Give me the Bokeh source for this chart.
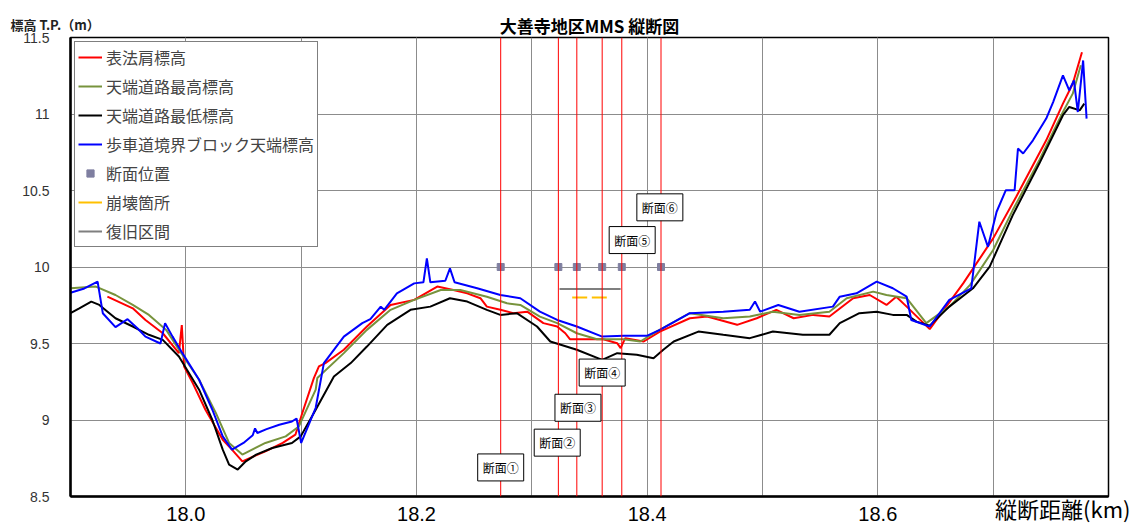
from bokeh.plotting import figure
from bokeh.models import FixedTicker, Span, Label, Range1d, Title
from bokeh.embed import file_html
from bokeh.resources import INLINE

# ---------------- data ----------------
blue_km = [17.900, 17.912, 17.9235, 17.928, 17.939, 17.9495, 17.958, 17.965, 17.978, 17.982, 17.9885,
           17.997, 18.0115, 18.023, 18.032, 18.040, 18.050, 18.058, 18.060, 18.062, 18.070, 18.081,
           18.092, 18.096, 18.100, 18.1126, 18.1197, 18.137, 18.153, 18.160, 18.169, 18.172, 18.183,
           18.198, 18.206, 18.209, 18.212, 18.225, 18.229, 18.233, 18.2526, 18.2727, 18.290, 18.307,
           18.322, 18.339, 18.361, 18.380, 18.3997, 18.411, 18.437, 18.466, 18.489, 18.4935, 18.498,
           18.5137, 18.532, 18.561, 18.567, 18.5815, 18.599, 18.613, 18.625, 18.629, 18.645, 18.662,
           18.681, 18.688, 18.6955, 18.703, 18.711, 18.7186, 18.7215, 18.726, 18.7345, 18.746, 18.752,
           18.7605, 18.766, 18.770, 18.7734, 18.778, 18.781]
blue_m = [9.832, 9.86, 9.904, 9.698, 9.607, 9.659, 9.60, 9.545, 9.50, 9.633, 9.545,
          9.437, 9.263, 9.067, 8.893, 8.806, 8.85, 8.90, 8.945, 8.915, 8.94, 8.969,
          8.99, 9.01, 8.85, 9.08, 9.372, 9.545, 9.633, 9.66, 9.741, 9.72, 9.828,
          9.893, 9.90, 10.057, 9.90, 9.91, 9.991, 9.90, 9.861, 9.817, 9.796, 9.708,
          9.654, 9.611, 9.545, 9.55, 9.55, 9.589, 9.698, 9.708, 9.72, 9.774, 9.708,
          9.752, 9.708, 9.741, 9.806, 9.828, 9.904, 9.861, 9.806, 9.654, 9.611, 9.785,
          9.861, 10.296, 10.132, 10.361, 10.502, 10.502, 10.774, 10.742, 10.828, 10.97, 11.078,
          11.252, 11.155, 11.22, 11.013, 11.35, 10.97]

red_km = [17.932, 17.954, 17.965, 17.980, 17.994, 17.9965, 17.9985, 18.006, 18.017, 18.032, 18.040,
          18.049, 18.069, 18.084, 18.095, 18.101, 18.111, 18.1154, 18.121, 18.137, 18.157, 18.1775,
          18.198, 18.218, 18.232, 18.244, 18.2554, 18.261, 18.2727, 18.284, 18.296, 18.310, 18.322,
          18.329, 18.333, 18.362, 18.374, 18.377, 18.381, 18.397, 18.411, 18.437, 18.452, 18.478,
          18.495, 18.512, 18.527, 18.544, 18.558, 18.5786, 18.593, 18.6075, 18.616, 18.625, 18.645,
          18.674, 18.700, 18.720, 18.746, 18.7605, 18.769, 18.777]
red_m = [9.806, 9.73, 9.654, 9.567, 9.437, 9.62, 9.35, 9.241, 9.067, 8.871, 8.806,
         8.73, 8.795, 8.85, 8.904, 9.046, 9.274, 9.35, 9.372, 9.459, 9.611, 9.752,
         9.785, 9.872, 9.85, 9.828, 9.796, 9.741, 9.72, 9.698, 9.708, 9.633, 9.611,
         9.567, 9.528, 9.528, 9.502, 9.47, 9.535, 9.513, 9.578, 9.665, 9.676, 9.622,
         9.665, 9.72, 9.665, 9.687, 9.676, 9.796, 9.817, 9.752, 9.806, 9.741, 9.594,
         9.893, 10.187, 10.459, 10.828, 11.068, 11.198, 11.404]

green_km = [17.900, 17.922, 17.939, 17.954, 17.968, 17.983, 17.994, 18.0115, 18.026, 18.0375, 18.049,
            18.069, 18.0866, 18.098, 18.1126, 18.114, 18.137, 18.157, 18.1775, 18.198, 18.221, 18.238,
            18.261, 18.2785, 18.290, 18.307, 18.322, 18.339, 18.3565, 18.3795, 18.394, 18.408, 18.437,
            18.466, 18.489, 18.509, 18.532, 18.558, 18.573, 18.596, 18.6075, 18.625, 18.642, 18.662,
            18.680, 18.700, 18.717, 18.740, 18.7605, 18.769, 18.776]
green_m = [9.861, 9.872, 9.817, 9.752, 9.687, 9.589, 9.459, 9.263, 9.046, 8.85, 8.774,
           8.85, 8.893, 8.958, 9.198, 9.274, 9.437, 9.589, 9.72, 9.785, 9.85, 9.85,
           9.806, 9.763, 9.752, 9.676, 9.633, 9.567, 9.528, 9.528, 9.513, 9.578, 9.698,
           9.665, 9.676, 9.708, 9.687, 9.708, 9.796, 9.839, 9.817, 9.796, 9.633, 9.741,
           9.883, 10.111, 10.372, 10.698, 11.013, 11.133, 11.318]

black_km = [17.900, 17.9076, 17.918, 17.925, 17.939, 17.954, 17.968, 17.980, 17.994, 18.0115, 18.023,
            18.032, 18.0375, 18.045, 18.052, 18.061, 18.075, 18.092, 18.0996, 18.1126, 18.1284, 18.143,
            18.157, 18.1746, 18.1948, 18.212, 18.229, 18.244, 18.261, 18.2727, 18.287, 18.3045, 18.316,
            18.339, 18.361, 18.374, 18.391, 18.4055, 18.414, 18.423, 18.4444, 18.466, 18.489, 18.509,
            18.535, 18.558, 18.567, 18.584, 18.599, 18.613, 18.625, 18.6335, 18.645, 18.662, 18.6825,
            18.697, 18.717, 18.740, 18.7605, 18.766, 18.775, 18.779]
black_m = [9.698, 9.73, 9.774, 9.752, 9.665, 9.611, 9.557, 9.524, 9.415, 9.198, 9.0,
           8.806, 8.708, 8.676, 8.73, 8.774, 8.817, 8.85, 8.893, 9.067, 9.284, 9.372,
           9.48, 9.622, 9.72, 9.741, 9.796, 9.774, 9.72, 9.687, 9.698, 9.611, 9.513,
           9.459, 9.393, 9.437, 9.426, 9.404, 9.459, 9.513, 9.578, 9.557, 9.535, 9.578,
           9.557, 9.557, 9.633, 9.698, 9.708, 9.687, 9.687, 9.643, 9.617, 9.741, 9.861,
           10.002, 10.339, 10.676, 10.992, 11.046, 11.024, 11.068]

section_km = [18.273, 18.323, 18.339, 18.361, 18.378, 18.412]
section_level = [10.0, 10.0, 10.0, 10.0, 10.0, 10.0]
section_names = ["断面①", "断面②", "断面③", "断面④", "断面⑤", "断面⑥"]
section_label_km = [18.273, 18.322, 18.340, 18.361, 18.387, 18.411]
section_label_m = [8.69, 8.852, 9.08, 9.31, 10.176, 10.39]

collapse_start = [18.335, 18.352]
collapse_end = [18.348, 18.365]
collapse_level = [9.80, 9.80]

restore_start = [18.324]
restore_end = [18.377]
restore_level = [9.856]

x_major_ticks = [18.0, 18.2, 18.4, 18.6]
x_grid_ticks = [17.9, 18.0, 18.1, 18.2, 18.3, 18.4, 18.5, 18.6, 18.7, 18.8]
y_ticks = [8.5, 9.0, 9.5, 10.0, 10.5, 11.0, 11.5]
y_tick_labels = ["8.5", "9", "9.5", "10", "10.5", "11", "11.5"]

legend_names = ["表法肩標高", "天端道路最高標高", "天端道路最低標高", "歩車道境界ブロック天端標高",
                "断面位置", "崩壊箇所", "復旧区間"]

title_text = "大善寺地区MMS 縦断図"
y_title = "標高 T.P.（m）"
x_title = "縦断距離(km)"

# ---------------- figure ----------------
JP = "Noto Sans CJK JP"
p = figure(width=1133, height=523, output_backend="svg", toolbar_location=None, title=None,
           x_range=Range1d(17.9, 18.8), y_range=Range1d(8.5, 11.5),
           min_border_left=70, min_border_right=25, min_border_top=37, min_border_bottom=26)
p.background_fill_color = "white"
p.border_fill_color = "white"
p.outline_line_color = "black"
p.outline_line_width = 1.5

# axes
p.xaxis.ticker = FixedTicker(ticks=x_major_ticks, minor_ticks=x_grid_ticks)
p.xaxis.major_label_overrides = {t: f"{t:.1f}" for t in x_major_ticks}
p.xaxis.major_label_text_font = "Liberation Sans"
p.xaxis.major_label_text_font_size = "20px"
p.xaxis.major_label_text_color = "black"
p.xaxis.major_label_standoff = 4
p.xaxis.major_tick_line_color = None
p.xaxis.minor_tick_line_color = None
p.xaxis.axis_line_color = "black"
p.xaxis.axis_line_width = 2.5

p.yaxis.ticker = FixedTicker(ticks=y_ticks)
p.yaxis.major_label_overrides = dict(zip(y_ticks, y_tick_labels))
p.yaxis.major_label_text_font = "Liberation Sans"
p.yaxis.major_label_text_font_size = "14px"
p.yaxis.major_label_text_color = "#333333"
p.yaxis.major_label_standoff = 15
p.yaxis.major_tick_line_color = None
p.yaxis.minor_tick_line_color = None
p.yaxis.axis_line_color = "black"
p.yaxis.axis_line_width = 2.5

grid_col = "#8c8c8c"
p.xgrid.grid_line_color = grid_col
p.xgrid.minor_grid_line_color = grid_col
p.xgrid.grid_line_width = 1
p.xgrid.minor_grid_line_width = 1
p.ygrid.grid_line_color = grid_col
p.ygrid.grid_line_width = 1

# section vertical lines
for xk in section_km:
    p.add_layout(Span(location=xk, dimension="height", line_color="#ff0000", line_width=1))

# series
p.line(red_km, red_m, line_color="#ff0000", line_width=2, legend_label=legend_names[0])
p.line(green_km, green_m, line_color="#77933c", line_width=2, legend_label=legend_names[1])
p.line(black_km, black_m, line_color="#000000", line_width=2, legend_label=legend_names[2])
p.line(blue_km, blue_m, line_color="#0000ff", line_width=2, legend_label=legend_names[3])
p.scatter(section_km, section_level, marker="square", size=7, fill_color="#7f7fa0",
          line_color="#7f7fa0", legend_label=legend_names[4])
p.segment(x0=collapse_start, x1=collapse_end, y0=collapse_level, y1=collapse_level,
          line_color="#ffc000", line_width=2, legend_label=legend_names[5])
p.segment(x0=restore_start, x1=restore_end, y0=restore_level, y1=restore_level,
          line_color="#7f7f7f", line_width=2, legend_label=legend_names[6])

# section labels
for xk, ym, name in zip(section_label_km, section_label_m, section_names):
    p.add_layout(Label(x=xk, y=ym, text=name, text_align="center", text_baseline="middle",
                       text_font=JP, text_font_size="12px", text_color="black",
                       border_line_color="black", border_line_width=1,
                       background_fill_color="white", padding=5))

# legend
lg = p.legend[0]
lg.location = "top_left"
lg.margin = 4
lg.padding = 3
lg.spacing = 5
lg.label_height = 18
lg.glyph_height = 18
lg.glyph_width = 24
lg.label_standoff = 4
lg.label_text_font = JP
lg.label_text_font_size = "16px"
lg.border_line_color = "black"
lg.border_line_width = 1
lg.background_fill_alpha = 1

# titles
p.add_layout(Title(text=title_text, align="center", vertical_align="bottom", text_font=JP,
                   text_font_size="17px", text_font_style="bold", text_color="black",
                   standoff=-1), "above")
p.add_layout(Title(text=y_title, align="left", vertical_align="bottom", offset=-60, text_font=JP,
                   text_font_size="13px", text_font_style="bold", text_color="#222222",
                   standoff=-45), "above")
p.add_layout(Title(text=x_title, align="right", vertical_align="top", offset=-22, text_font=JP,
                   text_font_size="22px", text_font_style="normal", text_color="black",
                   standoff=-63), "below")

open("out.html", "w").write(file_html(p, INLINE))
